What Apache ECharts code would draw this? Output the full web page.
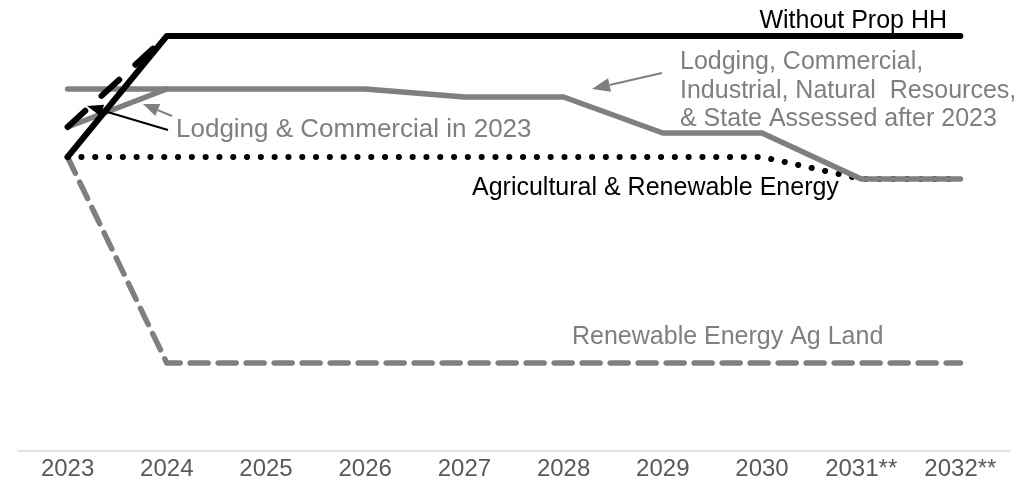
<!DOCTYPE html>
<html>
<head>
<meta charset="utf-8">
<script src="https://cdn.jsdelivr.net/npm/echarts@6/dist/echarts.min.js"></script>
<style>html,body{margin:0;padding:0;background:#fff}#c{width:1019px;height:493px}</style>
</head>
<body>
<div id="c"></div>
<script>
var categories = ['2023','2024','2025','2026','2027','2028','2029','2030','2031**','2032**'];
var withoutPropHH = [29.4, 41.5, 41.5, 41.5, 41.5, 41.5, 41.5, 41.5, 41.5, 41.5];
var lodgingCommercial2023Dashed = [32.4, 41.5, null, null, null, null, null, null, null, null];
var lodgingAfter2023 = [36.2, 36.2, 36.2, 36.2, 35.4, 35.4, 31.8, 31.8, 27.2, 27.2];
var lodgingIn2023 = [32.4, 36.2, null, null, null, null, null, null, null, null];
var agRenewable = [29.4, 29.4, 29.4, 29.4, 29.4, 29.4, 29.4, 29.4, 27.2, 27.2];
var renewableAgLand = [29.4, 8.8, 8.8, 8.8, 8.8, 8.8, 8.8, 8.8, 8.8, 8.8];

var FONT = 'Liberation Sans, Arial, sans-serif';
var GRAY = '#7f7f7f';

function line(name, data, color, width, type, z) {
  return {
    name: name, type: 'line', data: data, symbol: 'none', z: z,
    connectNulls: false, animation: false,
    lineStyle: { color: color, width: width, type: type, cap: 'round', join: 'round' }
  };
}

function arrow(x1, y1, x2, y2, color, width, head) {
  var ang = Math.atan2(y2 - y1, x2 - x1);
  var hl = head[0], hw = head[1];
  var bx = x2 - hl * Math.cos(ang), by = y2 - hl * Math.sin(ang);
  var px = -Math.sin(ang) * hw / 2, py = Math.cos(ang) * hw / 2;
  return [
    { type: 'line', shape: { x1: x1, y1: y1, x2: bx, y2: by }, style: { stroke: color, lineWidth: width }, z: 100 },
    { type: 'polygon', shape: { points: [[x2, y2], [bx + px, by + py], [bx - px, by - py]] }, style: { fill: color }, z: 100 }
  ];
}

function txt(x, y, text, color, align, size) {
  return { type: 'text', x: x, y: y, z: 100,
    style: { text: text, fill: color, font: (size || 25) + 'px ' + FONT, align: align || 'left', verticalAlign: 'middle', lineHeight: 28 } };
}

var graphics = [].concat(
  arrow(662, 73, 592, 89, GRAY, 2, [18, 14]),
  arrow(172, 116, 143, 104, GRAY, 2, [16, 13]),
  arrow(168, 130, 87, 106, '#000', 2, [16, 12]),
  [
    txt(947, 21, 'Without Prop HH', '#000', 'right'),
    { type: 'text', x: 680, y: 48, z: 100,
      style: { text: 'Lodging, Commercial,\nIndustrial, Natural  Resources,\n& State Assessed after 2023', fill: GRAY, font: '25px ' + FONT, lineHeight: 28.5 } },
    txt(176, 130, 'Lodging & Commercial in 2023', GRAY, 'left', 26),
    txt(472, 188, 'Agricultural & Renewable Energy', '#000'),
    txt(572, 337, 'Renewable Energy Ag Land', GRAY)
  ]
);

var chart = echarts.init(document.getElementById('c'), null, { renderer: 'canvas' });
chart.setOption({
  animation: false,
  backgroundColor: '#fff',
  grid: { left: 18, right: 9, top: 31, bottom: 42, containLabel: false },
  xAxis: {
    type: 'category', data: categories, boundaryGap: true,
    axisLine: { lineStyle: { color: '#d9d9d9', width: 1.5 } },
    axisTick: { show: false },
    axisLabel: { color: '#595959', fontSize: 24, fontFamily: FONT, margin: 6, interval: 0 }
  },
  yAxis: { type: 'value', min: 0, max: 42, show: false, splitLine: { show: false } },
  series: [
    line('Renewable Energy Ag Land', renewableAgLand, GRAY, 5.5, [18, 10], 1),
    line('Agricultural & Renewable Energy', agRenewable, '#000', 6, [0.1, 13.7], 2),
    line('Lodging & Commercial in 2023', lodgingIn2023, GRAY, 5.5, 'solid', 3),
    line('Lodging, Commercial, Industrial, Natural Resources, & State Assessed after 2023', lodgingAfter2023, GRAY, 5.5, 'solid', 4),
    line('Lodging & Commercial 2023 (dashed)', lodgingCommercial2023Dashed, '#000', 6, [24, 22], 5),
    line('Without Prop HH', withoutPropHH, '#000', 6, 'solid', 6)
  ],
  graphic: graphics
});
</script>
</body>
</html>
